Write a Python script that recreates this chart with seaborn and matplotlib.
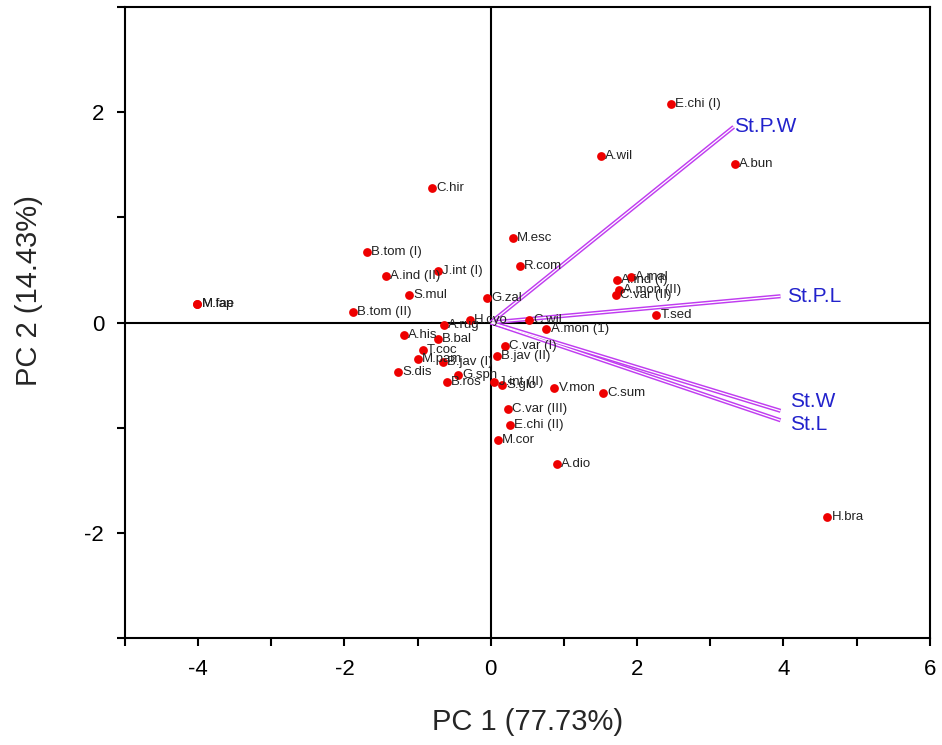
import numpy as np
import pandas as pd
import matplotlib
matplotlib.use("Agg")
import matplotlib.pyplot as plt
import seaborn as sns

# ---- data ----
species = ["E.chi (I)", "A.wil", "A.bun", "C.hir", "M.esc", "B.tom (I)", "A.ind (II)",
           "J.int (I)", "R.com", "S.mul", "G.zal", "B.tom (II)", "M.fae", "M.lap",
           "H.cyo", "A.rug", "C.wil", "A.mon (1)", "A.his", "B.bal", "T.coc", "M.pam",
           "B.jav (I)", "S.dis", "G.spn", "B.ros", "C.var (I)", "B.jav (II)", "J.int (II)",
           "S.glo", "V.mon", "C.sum", "C.var (III)", "E.chi (II)", "M.cor", "A.dio",
           "H.bra", "T.sed", "A.mal", "A.ind (I)", "A.mon (II)", "C.var (II)"]
pc1 = [2.46, 1.51, 3.34, -0.80, 0.30, -1.69, -1.43,
       -0.72, 0.40, -1.12, -0.05, -1.88, -4.01, -4.01,
       -0.29, -0.64, 0.52, 0.76, -1.19, -0.72, -0.93, -1.00,
       -0.65, -1.27, -0.45, -0.60, 0.19, 0.08, 0.05,
       0.15, 0.87, 1.54, 0.23, 0.26, 0.10, 0.90,
       4.60, 2.26, 1.91, 1.72, 1.75, 1.71]
pc2 = [2.08, 1.58, 1.51, 1.28, 0.80, 0.67, 0.44,
       0.49, 0.54, 0.26, 0.23, 0.10, 0.18, 0.18,
       0.02, -0.02, 0.02, -0.06, -0.12, -0.16, -0.26, -0.35,
       -0.38, -0.47, -0.50, -0.57, -0.22, -0.32, -0.57,
       -0.59, -0.62, -0.67, -0.82, -0.97, -1.12, -1.35,
       -1.85, 0.07, 0.43, 0.40, 0.31, 0.26]

traits = ["St.P.W", "St.P.L", "St.W", "St.L"]
load1 = [3.32, 3.96, 3.96, 3.96]
load2 = [1.86, 0.25, -0.84, -0.93]

df = pd.DataFrame({"PC1": pc1, "PC2": pc2, "label": species})

# ---- style ----
sns.set_theme(style="white")
plt.rcParams["font.family"] = ["Liberation Sans", "DejaVu Sans"]

fig = plt.figure(figsize=(9.42, 7.45), dpi=100)
ax = fig.add_axes([0.1327, 0.1436, 0.8543, 0.847])

# reference lines through origin
ax.axhline(0, color="black", lw=1.5, zorder=1)
ax.axvline(0, color="black", lw=1.5, zorder=1)

# loading vectors (double-line look)
purple = "#c03cf0"
label_offsets = {"St.P.W": (0, 0), "St.P.L": (5, 0), "St.W": (7, 7), "St.L": (7, -3)}
for t, x, y in zip(traits, load1, load2):
    ax.plot([0, x], [0, y], color=purple, lw=3.0, solid_capstyle="butt", zorder=2)
    ax.plot([0, x], [0, y], color="white", lw=0.9, solid_capstyle="butt", zorder=2.1)
    ax.annotate(t, (x, y), xytext=label_offsets[t], textcoords="offset points",
                ha="left", va="center", fontsize=15, color="#2222cc", zorder=5)

# scores
sns.scatterplot(data=df, x="PC1", y="PC2", ax=ax, color="#ee0000",
                edgecolor="#ee0000", s=40, linewidth=0, zorder=3, legend=False)
for lab, x, y in zip(df["label"], df["PC1"], df["PC2"]):
    ax.annotate(lab, (x, y), xytext=(3, 0), textcoords="offset points",
                ha="left", va="center", fontsize=9.5, color="#222222", zorder=4)

ax.set_xlim(-5, 6)
ax.set_ylim(-3, 3)
ax.set_xticks(np.arange(-5, 7, 1))
ax.set_xticklabels([str(v) if v % 2 == 0 else "" for v in range(-5, 7)])
ax.set_yticks(np.arange(-3, 4, 1))
ax.set_yticklabels([str(v) if v % 2 == 0 else "" for v in range(-3, 4)])
ax.tick_params(axis="both", direction="out", length=6, width=1.5,
               labelsize=16, colors="black", bottom=True, left=True, pad=9)
for sp in ax.spines.values():
    sp.set_color("black")
    sp.set_linewidth(1.5)

ax.set_xlabel("PC 1 (77.73%)", fontsize=21, labelpad=20)
ax.set_ylabel("PC 2 (14.43%)", fontsize=21)
ax.yaxis.set_label_coords(-0.102, 0.55)

fig.savefig("out.png", dpi=100)
